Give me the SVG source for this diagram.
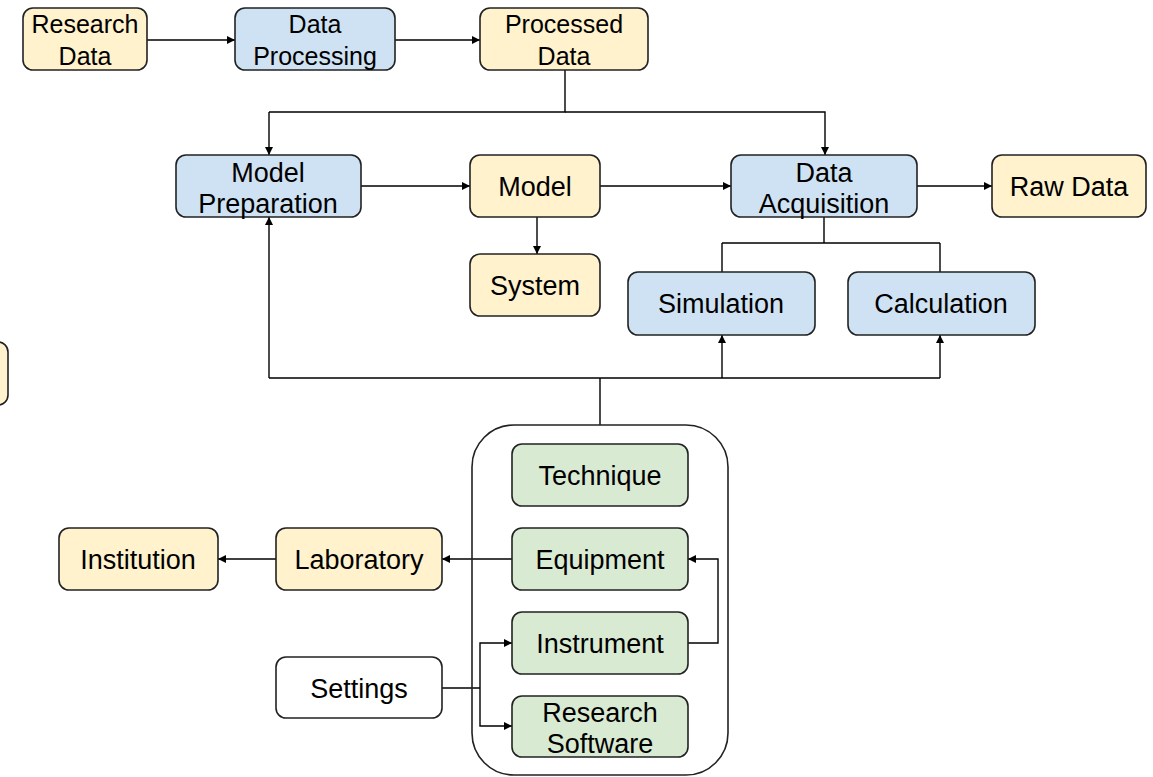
<svg xmlns="http://www.w3.org/2000/svg" width="1153" height="777" viewBox="0 0 1153 777">
  <defs>
    <marker id="arrow" viewBox="0 0 10 10" refX="10" refY="5" markerWidth="8" markerHeight="8" markerUnits="userSpaceOnUse" orient="auto">
      <path d="M0,0 L10,5 L0,10 z" fill="#000"/>
    </marker>
    <style>
      .box { stroke: #222; stroke-width: 1.6; }
      .yellow { fill: #fff2cc; }
      .blue { fill: #cfe2f3; }
      .green { fill: #d9ead3; }
      .white { fill: #ffffff; }
      .label { font-family: "Liberation Sans", Arial, sans-serif; font-size: 27px; fill: #000; text-anchor: middle; }
      .small { font-size: 25px; }
      .wire { fill: none; stroke: #000; stroke-width: 1.4; }
      .arr { marker-end: url(#arrow); }
    </style>
  </defs>

  <rect width="1153" height="777" fill="#ffffff"/>

  <!-- connectors -->
  <g id="connectors">
    <path class="wire arr" d="M147,40 H235"/>
    <path class="wire arr" d="M395,40 H480"/>
    <path class="wire" d="M565,70 V112 H269"/>
    <path class="wire arr" d="M269,112 V155"/>
    <path class="wire arr" d="M565,112 H825 V155"/>
    <path class="wire arr" d="M361,186 H470"/>
    <path class="wire arr" d="M600,186 H731"/>
    <path class="wire arr" d="M917,186 H992"/>
    <path class="wire arr" d="M537,217 V254"/>
    <path class="wire" d="M824,217 V243 M722,243 H940 M722,243 V272 M940,243 V272"/>
    <path class="wire" d="M600,425 V378 M269,378 H940"/>
    <path class="wire arr" d="M269,378 V217"/>
    <path class="wire arr" d="M722,378 V335"/>
    <path class="wire arr" d="M940,378 V335"/>
    <path class="wire arr" d="M512,559 H442"/>
    <path class="wire arr" d="M276,559 H218"/>
    <path class="wire arr" d="M688,643 H718 V559 H688"/>
    <path class="wire" d="M442,688 H480"/>
    <path class="wire arr" d="M480,688 V643 H512"/>
    <path class="wire arr" d="M480,688 V726 H512"/>
  </g>

  <!-- partial node cut by the left edge -->
  <g id="node-edge">
    <rect class="box yellow" x="-60" y="342" width="68" height="63" rx="10"/>
  </g>

  <g id="node-research-data">
    <rect class="box yellow" x="23" y="8" width="124" height="62" rx="10"/>
    <text class="label small" x="85" y="33">Research</text>
    <text class="label small" x="85" y="65">Data</text>
  </g>
  <g id="node-data-processing">
    <rect class="box blue" x="235" y="8" width="160" height="62" rx="10"/>
    <text class="label small" x="315" y="33">Data</text>
    <text class="label small" x="315" y="65">Processing</text>
  </g>
  <g id="node-processed-data">
    <rect class="box yellow" x="480" y="8" width="168" height="62" rx="10"/>
    <text class="label small" x="564" y="33">Processed</text>
    <text class="label small" x="564" y="65">Data</text>
  </g>

  <g id="node-model-preparation">
    <rect class="box blue" x="176" y="155" width="185" height="62" rx="10"/>
    <text class="label" x="268" y="182">Model</text>
    <text class="label" x="268" y="213">Preparation</text>
  </g>
  <g id="node-model">
    <rect class="box yellow" x="470" y="155" width="130" height="62" rx="10"/>
    <text class="label" x="535" y="196">Model</text>
  </g>
  <g id="node-data-acquisition">
    <rect class="box blue" x="731" y="155" width="186" height="62" rx="10"/>
    <text class="label" x="824" y="182">Data</text>
    <text class="label" x="824" y="213">Acquisition</text>
  </g>
  <g id="node-raw-data">
    <rect class="box yellow" x="992" y="155" width="154" height="62" rx="10"/>
    <text class="label" x="1069" y="196">Raw Data</text>
  </g>
  <g id="node-system">
    <rect class="box yellow" x="470" y="254" width="130" height="62" rx="10"/>
    <text class="label" x="535" y="295">System</text>
  </g>
  <g id="node-simulation">
    <rect class="box blue" x="628" y="272" width="187" height="63" rx="10"/>
    <text class="label" x="721" y="313">Simulation</text>
  </g>
  <g id="node-calculation">
    <rect class="box blue" x="848" y="272" width="187" height="63" rx="10"/>
    <text class="label" x="941" y="313">Calculation</text>
  </g>

  <g id="node-resources">
    <rect class="box" fill="none" x="472" y="425" width="256" height="350" rx="42"/>
  </g>
  <g id="node-technique">
    <rect class="box green" x="512" y="444" width="176" height="62" rx="10"/>
    <text class="label" x="600" y="485">Technique</text>
  </g>
  <g id="node-equipment">
    <rect class="box green" x="512" y="528" width="176" height="62" rx="10"/>
    <text class="label" x="600" y="569">Equipment</text>
  </g>
  <g id="node-instrument">
    <rect class="box green" x="512" y="612" width="176" height="62" rx="10"/>
    <text class="label" x="600" y="653">Instrument</text>
  </g>
  <g id="node-research-software">
    <rect class="box green" x="512" y="696" width="176" height="61" rx="10"/>
    <text class="label" x="600" y="722">Research</text>
    <text class="label" x="600" y="753">Software</text>
  </g>

  <g id="node-laboratory">
    <rect class="box yellow" x="276" y="528" width="166" height="62" rx="10"/>
    <text class="label" x="359" y="569">Laboratory</text>
  </g>
  <g id="node-institution">
    <rect class="box yellow" x="59" y="528" width="159" height="62" rx="10"/>
    <text class="label" x="138" y="569">Institution</text>
  </g>
  <g id="node-settings">
    <rect class="box white" x="276" y="657" width="166" height="61" rx="10"/>
    <text class="label" x="359" y="698">Settings</text>
  </g>
</svg>
